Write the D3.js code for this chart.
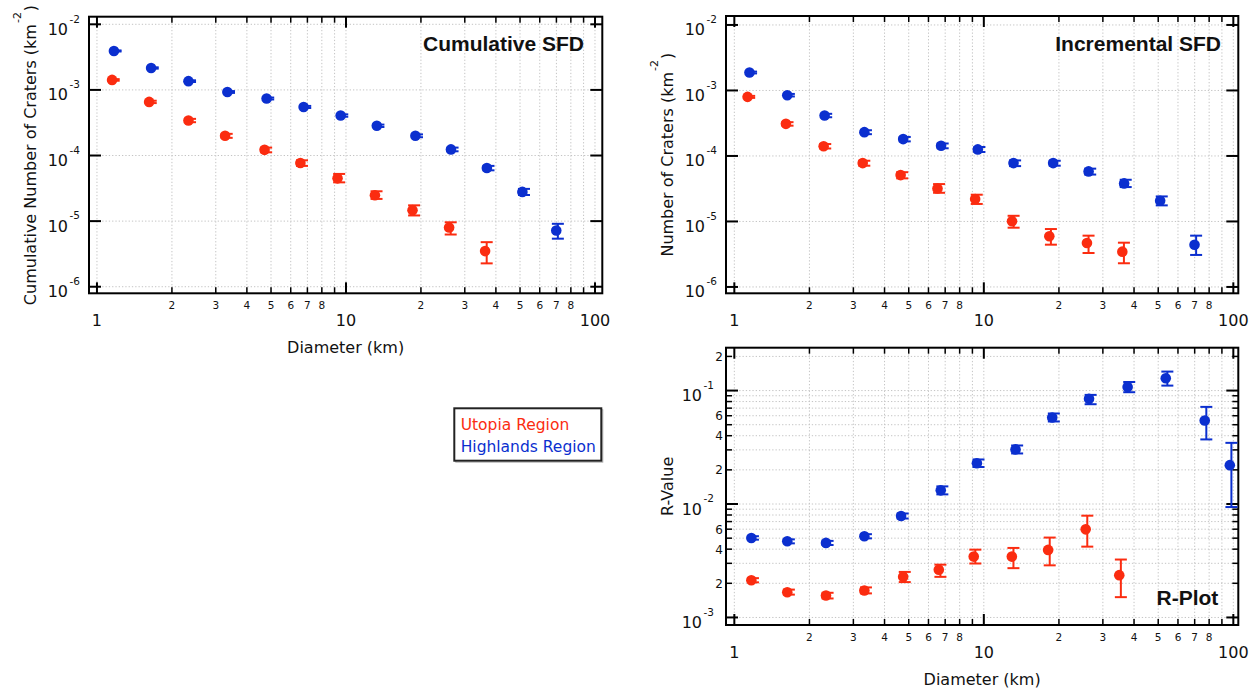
<!DOCTYPE html>
<html>
<head>
<meta charset="utf-8">
<script src="https://cdn.jsdelivr.net/npm/d3@7"></script>
<style>
  html, body { margin: 0; padding: 0; background: #fff; }
  svg { display: block; }
</style>
</head>
<body>
<script>
// ---------------- DATA ----------------
// Cumulative SFD
const cumDiamBlue = [1.17, 1.65, 2.33, 3.34, 4.80, 6.76, 9.52, 13.3, 19.0, 26.4, 36.8, 51.1, 69.9];
const cumBlue     = [3.92e-3, 2.16e-3, 1.36e-3, 9.3e-4, 7.4e-4, 5.5e-4, 4.07e-4, 2.84e-4, 2.0e-4, 1.24e-4, 6.45e-5, 2.79e-5, 7.2e-6];
const cumBlueLo   = [3.85e-3, 2.11e-3, 1.32e-3, 9.0e-4, 7.15e-4, 5.3e-4, 3.9e-4, 2.72e-4, 1.9e-4, 1.16e-4, 5.95e-5, 2.5e-5, 5.4e-6];
const cumBlueHi   = [4.0e-3, 2.21e-3, 1.40e-3, 9.6e-4, 7.65e-4, 5.7e-4, 4.24e-4, 2.96e-4, 2.1e-4, 1.32e-4, 6.95e-5, 3.1e-5, 9.1e-6];
const cumDiamRed  = [1.15, 1.62, 2.33, 3.27, 4.71, 6.56, 9.25, 13.07, 18.5, 25.95, 36.2];
const cumRed      = [1.42e-3, 6.57e-4, 3.42e-4, 2.0e-4, 1.22e-4, 7.7e-5, 4.49e-5, 2.48e-5, 1.47e-5, 8.0e-6, 3.49e-6];
const cumRedLo    = [1.38e-3, 6.3e-4, 3.22e-4, 1.86e-4, 1.12e-4, 6.95e-5, 3.9e-5, 2.18e-5, 1.22e-5, 6.25e-6, 2.27e-6];
const cumRedHi    = [1.46e-3, 6.84e-4, 3.62e-4, 2.14e-4, 1.32e-4, 8.45e-5, 5.24e-5, 2.85e-5, 1.74e-5, 9.6e-6, 4.78e-6];

// Incremental SFD
const incDiamBlue = [1.15, 1.63, 2.30, 3.32, 4.75, 6.74, 9.46, 13.15, 18.96, 26.3, 36.5, 50.9, 69.9];
const incBlue     = [1.88e-3, 8.47e-4, 4.15e-4, 2.31e-4, 1.81e-4, 1.43e-4, 1.26e-4, 7.78e-5, 7.78e-5, 5.81e-5, 3.81e-5, 2.07e-5, 4.42e-6];
const incBlueLo   = [1.82e-3, 8.1e-4, 3.9e-4, 2.15e-4, 1.67e-4, 1.31e-4, 1.15e-4, 7.0e-5, 7.1e-5, 5.2e-5, 3.35e-5, 1.76e-5, 3.08e-6];
const incBlueHi   = [1.94e-3, 8.85e-4, 4.4e-4, 2.47e-4, 1.95e-4, 1.55e-4, 1.37e-4, 8.55e-5, 8.45e-5, 6.4e-5, 4.33e-5, 2.41e-5, 6.07e-6];
const incDiamRed  = [1.13, 1.61, 2.28, 3.27, 4.64, 6.52, 9.23, 12.97, 18.3, 25.9, 35.9];
const incRed      = [7.98e-4, 3.09e-4, 1.41e-4, 7.78e-5, 5.1e-5, 3.19e-5, 2.2e-5, 1.01e-5, 5.93e-6, 4.69e-6, 3.46e-6];
const incRedLo    = [7.7e-4, 2.9e-4, 1.3e-4, 7.1e-5, 4.55e-5, 2.74e-5, 1.85e-5, 8.03e-6, 4.42e-6, 3.3e-6, 2.3e-6];
const incRedHi    = [8.26e-4, 3.28e-4, 1.52e-4, 8.45e-5, 5.65e-5, 3.72e-5, 2.56e-5, 1.22e-5, 7.66e-6, 6.07e-6, 4.74e-6];

// R-Plot
const rDiamBlue = [1.17, 1.63, 2.33, 3.32, 4.66, 6.72, 9.38, 13.4, 18.8, 26.4, 37.7, 53.6, 76.8, 96.8];
const rBlue     = [5.02e-3, 4.69e-3, 4.54e-3, 5.2e-3, 7.84e-3, 1.32e-2, 2.29e-2, 3.03e-2, 5.79e-2, 8.45e-2, 0.1077, 0.1284, 5.45e-2, 2.2e-2];
const rBlueLo   = [4.85e-3, 4.5e-3, 4.35e-3, 4.98e-3, 7.45e-3, 1.216e-2, 2.12e-2, 2.79e-2, 5.34e-2, 7.58e-2, 9.67e-2, 0.1106, 3.71e-2, 9.4e-3];
const rBlueHi   = [5.2e-3, 4.88e-3, 4.73e-3, 5.42e-3, 8.25e-3, 1.43e-2, 2.47e-2, 3.28e-2, 6.28e-2, 9.16e-2, 0.119, 0.147, 7.18e-2, 3.46e-2];
const rDiamRed  = [1.17, 1.63, 2.33, 3.32, 4.75, 6.6, 9.11, 12.95, 18.1, 25.6, 34.9];
const rRed      = [2.13e-3, 1.67e-3, 1.56e-3, 1.73e-3, 2.28e-3, 2.63e-3, 3.44e-3, 3.44e-3, 3.94e-3, 5.98e-3, 2.36e-3];
const rRedLo    = [2.04e-3, 1.59e-3, 1.47e-3, 1.63e-3, 2.05e-3, 2.28e-3, 2.99e-3, 2.72e-3, 2.88e-3, 4.21e-3, 1.51e-3];
const rRedHi    = [2.22e-3, 1.76e-3, 1.65e-3, 1.84e-3, 2.52e-3, 2.92e-3, 3.96e-3, 4.1e-3, 5.06e-3, 7.89e-3, 3.24e-3];

// Axes / labels
const sfdYMajor = [1e-6, 1e-5, 1e-4, 1e-3, 1e-2];
const rYMajor   = [1e-3, 1e-2, 1e-1];
const rYMinorLabelDigits = [2, 4, 6];
const xMinorLabelDigits  = [2, 3, 4, 5, 6, 7, 8];
const seriesNames = ["Utopia Region", "Highlands Region"];

// ---------------- STYLE ----------------
const RED = "#fb2c10";
const BLUE = "#0b2fcf";
const FONT = "'DejaVu Sans', 'Liberation Sans', sans-serif";
const TITLE_FONT = "'Liberation Sans', Arial, sans-serif";

const svg = d3.select("body").append("svg").attr("width", 1260).attr("height", 691)
  .style("font-family", FONT);

function isDecade(v) { return Math.abs(Math.log10(v) - Math.round(Math.log10(v))) < 1e-9; }
function leadDigit(v) { return Math.round(v / Math.pow(10, Math.floor(Math.log10(v) + 1e-9))); }

function drawPanel(p) {
  const x = d3.scaleLog().domain(p.xDomain).range([p.left, p.right]);
  const y = d3.scaleLog().domain(p.yDomain).range([p.bottom, p.top]);
  const g = svg.append("g");

  const xt = x.ticks().filter(v => v >= 1 && v <= 100);
  let yt;
  if (p.yMinor) yt = y.ticks().filter(v => v >= p.yMajor[0] * 0.999);
  else yt = p.yMajor;

  // grid
  g.append("g").selectAll("line").data(xt).join("line")
    .attr("x1", d => x(d)).attr("x2", d => x(d))
    .attr("y1", p.top).attr("y2", p.bottom)
    .attr("stroke", "#c4c4c4").attr("stroke-width", 1).attr("stroke-dasharray", "1.3,2");
  g.append("g").selectAll("line").data(yt).join("line")
    .attr("y1", d => y(d)).attr("y2", d => y(d))
    .attr("x1", p.left).attr("x2", p.right)
    .attr("stroke", "#c4c4c4").attr("stroke-width", 1).attr("stroke-dasharray", "1.3,2");

  // x ticks (bottom & top)
  const xtl = d => isDecade(d) ? 11 : 6;
  ["bottom", "top"].forEach(side => {
    const y0 = side === "bottom" ? p.bottom : p.top;
    const s = side === "bottom" ? -1 : 1;
    g.append("g").selectAll("line").data(xt).join("line")
      .attr("x1", d => x(d)).attr("x2", d => x(d))
      .attr("y1", y0).attr("y2", d => y0 + s * xtl(d))
      .attr("stroke", "#000").attr("stroke-width", d => isDecade(d) ? 2 : 1.5);
  });
  // y ticks (left & right)
  const ytl = d => isDecade(d) ? 12 : 6;
  ["left", "right"].forEach(side => {
    const x0 = side === "left" ? p.left : p.right;
    const s = side === "left" ? 1 : -1;
    g.append("g").selectAll("line").data(yt).join("line")
      .attr("y1", d => y(d)).attr("y2", d => y(d))
      .attr("x1", x0).attr("x2", d => x0 + s * ytl(d))
      .attr("stroke", "#000").attr("stroke-width", d => isDecade(d) ? 2 : 1.5);
  });

  // frame
  g.append("rect").attr("x", p.left).attr("y", p.top)
    .attr("width", p.right - p.left).attr("height", p.bottom - p.top)
    .attr("fill", "none").attr("stroke", "#000").attr("stroke-width", 2);

  // x labels
  g.append("g").selectAll("text").data(xt.filter(d => !isDecade(d) && xMinorLabelDigits.includes(leadDigit(d)))).join("text")
    .attr("x", d => x(d)).attr("y", p.bottom + 16)
    .attr("text-anchor", "middle").style("font-size", "10.5px").attr("fill", "#111")
    .text(d => leadDigit(d));
  g.append("g").selectAll("text").data(xt.filter(isDecade)).join("text")
    .attr("x", d => x(d)).attr("y", p.bottom + 32.5)
    .attr("text-anchor", "middle").style("font-size", "16px").attr("fill", "#111")
    .text(d => d3.format("d")(d));
  if (p.xTitle) {
    g.append("text").attr("x", (p.left + p.right) / 2).attr("y", p.bottom + 60)
      .attr("text-anchor", "middle").style("font-size", "16px").attr("fill", "#111")
      .text(p.xTitle);
  }

  // y labels (decades)
  p.yMajor.forEach(v => {
    const t = g.append("text").attr("x", p.left - p.yLabGap).attr("y", y(v) + 10.5)
      .attr("text-anchor", "end").style("font-size", "16px").attr("fill", "#111");
    t.append("tspan").text("10");
    t.append("tspan").attr("dx", 1.5).attr("dy", -12.3).style("font-size", "10.5px")
      .text(String(Math.round(Math.log10(v))).replace("\u2212", "-"));
  });
  if (p.yMinor) {
    g.append("g").selectAll("text")
      .data(yt.filter(d => !isDecade(d) && rYMinorLabelDigits.includes(leadDigit(d)))).join("text")
      .attr("x", p.left - 3).attr("y", d => y(d) + 4.4)
      .attr("text-anchor", "end").style("font-size", "12px").attr("fill", "#111")
      .text(d => leadDigit(d));
  }

  // y title
  const yt2 = g.append("text")
    .attr("transform", `translate(${p.left - 53},${(p.top + p.bottom) / 2}) rotate(-90)`)
    .attr("text-anchor", "middle").style("font-size", "16px").attr("fill", "#111");
  yt2.append("tspan").text(p.yTitle[0]);
  if (p.yTitle.length > 1) {
    yt2.append("tspan").attr("dy", -15).attr("dx", 1).style("font-size", "11px").text(p.yTitle[1]);
    yt2.append("tspan").attr("dy", 15).attr("dx", 1).text(p.yTitle[2]);
  }

  // panel title
  g.append("text").attr("x", p.right - p.titleDx).attr("y", p.titleY)
    .attr("text-anchor", "end").style("font-family", TITLE_FONT)
    .style("font-size", "21px").style("font-weight", "bold").attr("fill", "#111")
    .text(p.title);

  // data
  p.series.forEach(s => {
    const pts = s.d.map((d, i) => ({ d, v: s.v[i], lo: s.lo[i], hi: s.hi[i] }));
    const eg = g.append("g").attr("stroke", s.color).attr("stroke-width", 2).attr("fill", "none");
    eg.selectAll("line.v").data(pts).join("line").attr("class", "v")
      .attr("x1", q => x(q.d) + 1.6).attr("x2", q => x(q.d) + 1.6)
      .attr("y1", q => y(q.hi)).attr("y2", q => y(q.lo));
    eg.selectAll("line.h").data(pts).join("line").attr("class", "h")
      .attr("x1", q => x(q.d) + 1.6 - 6).attr("x2", q => x(q.d) + 1.6 + 6)
      .attr("y1", q => y(q.hi)).attr("y2", q => y(q.hi));
    eg.selectAll("line.l").data(pts).join("line").attr("class", "l")
      .attr("x1", q => x(q.d) + 1.6 - 6).attr("x2", q => x(q.d) + 1.6 + 6)
      .attr("y1", q => y(q.lo)).attr("y2", q => y(q.lo));
    g.append("g").selectAll("circle").data(pts).join("circle")
      .attr("cx", q => x(q.d)).attr("cy", q => y(q.v)).attr("r", 5.3)
      .attr("fill", s.color);
  });
}

// Cumulative SFD
drawPanel({
  left: 89, right: 602.3, top: 16.7, bottom: 293.3,
  xDomain: [0.929, 107], yDomain: [7.94e-7, 1.306e-2],
  yMajor: sfdYMajor, yMinor: false, yLabGap: 9,
  xTitle: "Diameter (km)",
  yTitle: ["Cumulative Number of Craters (km", "-2", ")"],
  title: "Cumulative SFD", titleDx: 18.3, titleY: 51,
  series: [
    { d: cumDiamRed, v: cumRed, lo: cumRedLo, hi: cumRedHi, color: RED },
    { d: cumDiamBlue, v: cumBlue, lo: cumBlueLo, hi: cumBlueHi, color: BLUE }
  ]
});

// Incremental SFD
drawPanel({
  left: 726, right: 1238.3, top: 16, bottom: 293.3,
  xDomain: [0.926, 104.7], yDomain: [8.0e-7, 1.37e-2],
  yMajor: sfdYMajor, yMinor: false, yLabGap: 9,
  xTitle: null,
  yTitle: ["Number of Craters (km", "-2", ")"],
  title: "Incremental SFD", titleDx: 17.3, titleY: 51,
  series: [
    { d: incDiamRed, v: incRed, lo: incRedLo, hi: incRedHi, color: RED },
    { d: incDiamBlue, v: incBlue, lo: incBlueLo, hi: incBlueHi, color: BLUE }
  ]
});

// R-Plot
drawPanel({
  left: 726, right: 1238.3, top: 347.7, bottom: 625,
  xDomain: [0.926, 104.7], yDomain: [8.58e-4, 0.2387],
  yMajor: rYMajor, yMinor: true, yLabGap: 12,
  xTitle: "Diameter (km)",
  yTitle: ["R-Value"],
  title: "R-Plot", titleDx: 20, titleY: 605,
  series: [
    { d: rDiamRed, v: rRed, lo: rRedLo, hi: rRedHi, color: RED },
    { d: rDiamBlue, v: rBlue, lo: rBlueLo, hi: rBlueHi, color: BLUE }
  ]
});

// Legend
const lg = svg.append("g");
lg.append("rect").attr("x", 455.8).attr("y", 409.8).attr("width", 147).attr("height", 52.4)
  .attr("fill", "none").attr("stroke", "#b0b0b0").attr("stroke-width", 1);
lg.append("rect").attr("x", 454.3).attr("y", 408.3).attr("width", 147).attr("height", 52.4)
  .attr("fill", "#fff").attr("stroke", "#222").attr("stroke-width", 2);
lg.selectAll("text").data(seriesNames).join("text")
  .attr("x", 460.7).attr("y", (d, i) => 429.5 + i * 22)
  .style("font-size", "15.5px")
  .attr("fill", (d, i) => i === 0 ? RED : BLUE)
  .text(d => d);
</script>
</body>
</html>
